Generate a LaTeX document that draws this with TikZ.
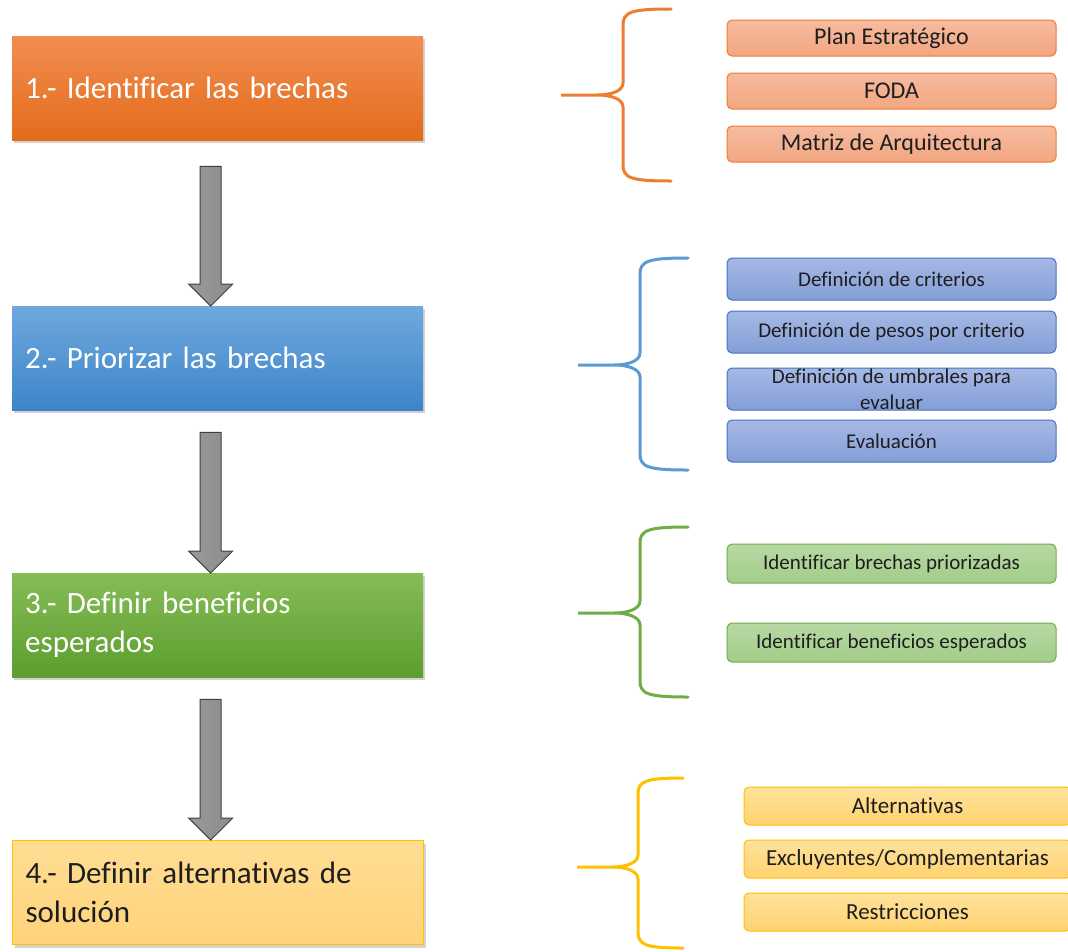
\documentclass[tikz,border=0pt]{standalone}
\usepackage{fontspec}
\setmainfont{Carlito}[Ligatures=CommonOff]
\newfontfamily\stepfont{Carlito}[Ligatures=CommonOff,WordSpace=0.85]
\usetikzlibrary{positioning,calc,shadows}

\definecolor{orangeline}{RGB}{237,125,49}
\definecolor{blueline}{RGB}{91,155,213}
\definecolor{blueedge}{RGB}{68,114,196}
\definecolor{greenline}{RGB}{112,173,71}
\definecolor{goldline}{RGB}{255,192,0}
\definecolor{arrowgray}{RGB}{128,128,128}
\definecolor{arrowedge}{RGB}{64,64,64}
\definecolor{textdark}{RGB}{30,30,30}

\newcommand{\blockarrow}[2]{%
\draw[grayarrow] let \p1=(#1), \p2=(#2) in
  (\x1-10.5pt,\y1) -- (\x1+10.5pt,\y1) -- (\x1+10.5pt,\y2+22pt) -- (\x1+22pt,\y2+22pt)
  -- (\x1,\y2) -- (\x1-22pt,\y2+22pt) -- (\x1-10.5pt,\y2+22pt) -- cycle;}

\newcommand{\bracket}[7]{%
\draw[#1,line width=3pt,line cap=round]
  (#4,#5) .. controls ({#3+8},#5) and (#3,{#5+3}) .. (#3,{#5+16})
  -- (#3,{#6-12}) .. controls (#3,{#6-4}) and ({#3-12},#6) .. ({#3-26},#6) -- (#2,#6)
  -- ({#3-26},#6) .. controls ({#3-12},#6) and (#3,{#6+4}) .. (#3,{#6+12})
  -- (#3,{#7-16}) .. controls (#3,{#7-3}) and ({#3+8},#7) .. (#4,#7);}

\begin{document}
\begin{tikzpicture}[x=1pt,y=-1pt,
  mainbox/.style={minimum width=411pt,minimum height=104pt,inner xsep=13pt,
    text width=385pt,align=left,anchor=north west,
    font=\stepfont\fontsize{31}{39}\selectfont,
    drop shadow={opacity=0.35,shadow xshift=2pt,shadow yshift=-3pt}},
  subbox/.style={draw,rounded corners=5pt,line width=1pt,minimum width=329pt,
    align=center,text=textdark,inner sep=0pt},
  grayarrow/.style={draw=arrowedge,line width=1pt,left color=arrowgray!80,right color=arrowgray!110!black},
  orangesub/.style={subbox,draw=orangeline,top color={rgb,255:red,246;green,187;blue,160},
    bottom color={rgb,255:red,242;green,166;blue,128},minimum height=36pt,font=\fontsize{24}{28}\selectfont},
  bluesub/.style={subbox,draw=blueedge,top color={rgb,255:red,166;green,185;blue,228},
    bottom color={rgb,255:red,132;green,158;blue,216},minimum height=42pt,font=\fontsize{21}{26}\selectfont},
  greensub/.style={subbox,draw=greenline,top color={rgb,255:red,184;green,216;blue,164},
    bottom color={rgb,255:red,162;green,205;blue,136},minimum height=39pt,font=\fontsize{21}{25}\selectfont},
  goldsub/.style={subbox,draw=goldline,minimum width=327pt,top color={rgb,255:red,255;green,226;blue,156},
    bottom color={rgb,255:red,255;green,210;blue,112},minimum height=38pt,font=\fontsize{23}{27}\selectfont}]

\useasboundingbox[fill=white] (0,0) rectangle (1068,951);

\node[mainbox,text=white,top color={rgb,255:red,241;green,141;blue,82},bottom color={rgb,255:red,228;green,108;blue,26}] (b1) at (12,36) {1.- Identificar las brechas};
\node[mainbox,text=white,top color={rgb,255:red,111;green,168;blue,222},bottom color={rgb,255:red,61;green,133;blue,200}] (b2) at (12,306) {2.- Priorizar las brechas};
\node[mainbox,text=white,top color={rgb,255:red,134;green,188;blue,86},bottom color={rgb,255:red,92;green,158;blue,46}] (b3) at (12,573) {3.- Definir beneficios\\esperados};
\node[mainbox,text=textdark,draw=goldline,line width=1pt,top color={rgb,255:red,255;green,221;blue,148},bottom color={rgb,255:red,255;green,211;blue,122}] (b4) at (12,840) {4.- Definir alternativas de\\solución};

\coordinate (a1) at ($(b1.south)+(-7,26)$);
\coordinate (a2) at ($(b2.south)+(-7,22)$);
\coordinate (a3) at ($(b3.south)+(-7,22)$);
\blockarrow{a1}{b2.north}
\blockarrow{a2}{b3.north}
\blockarrow{a3}{b4.north}

\bracket{orangeline}{561}{623}{671}{9}{95}{181}
\bracket{blueline}{578}{640}{688}{258}{365}{470}
\bracket{greenline}{578}{640}{688}{527}{613}{697}
\bracket{goldline}{577}{638}{683}{778}{867}{948}

\node[orangesub] (p1) at (891.5,38) {Plan Estratégico};
\node[orangesub] (p2) at (891.5,91) {FODA};
\node[orangesub] (p3) at (891.5,144) {Matriz de Arquitectura};

\node[bluesub] (c1) at (891.5,279) {Definición de criterios};
\node[bluesub] (c2) at (891.5,332) {Definición de pesos por criterio};
\node[bluesub] (c3) at (891.5,389) {Definición de umbrales para\\evaluar};
\node[bluesub] (c4) at (891.5,441) {Evaluación};

\node[greensub] (e1) at (891.5,563.5) {Identificar brechas priorizadas};
\node[greensub] (e2) at (891.5,642.5) {Identificar beneficios esperados};

\node[goldsub] (s1) at (907.5,806) {Alternativas};
\node[goldsub] (s2) at (907.5,859) {Excluyentes/Complementarias};
\node[goldsub] (s3) at (907.5,912) {Restricciones};

\end{tikzpicture}
\end{document}
